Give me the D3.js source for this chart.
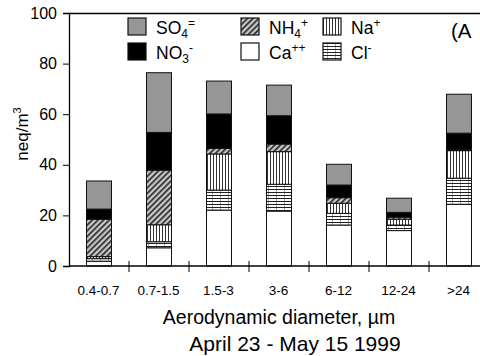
<!DOCTYPE html>
<html>
<head>
<meta charset="utf-8">
<script src="https://cdn.jsdelivr.net/npm/d3@7"></script>
<style>
  body { margin: 0; background: #fff; }
  svg { display: block; font-family: "Liberation Sans", Arial, sans-serif; }
</style>
</head>
<body>
<svg id="chart"></svg>
<script>
var width = 480;
var height = 356;

// size classes (um)
var categories = ["0.4-0.7", "0.7-1.5", "1.5-3", "3-6", "6-12", "12-24", ">24"];
// neq/m3, bottom to top
var ca  = [1.9, 7.2, 22.1, 21.7, 16.2, 14.0, 24.4];
var cl  = [1.0, 2.4, 7.9, 10.6, 4.6, 2.2, 10.3];
var na  = [0.8, 6.7, 14.3, 12.9, 4.0, 2.3, 10.9];
var nh4 = [14.8, 21.6, 2.2, 3.0, 2.2, 0.8, 0.3];
var no3 = [4.0, 14.9, 13.6, 11.2, 5.0, 1.9, 6.6];
var so4 = [11.1, 23.6, 13.0, 12.1, 8.2, 5.6, 15.4];
var yTicks = [0, 20, 40, 60, 80, 100];

var keys = ["ca", "cl", "na", "nh4", "no3", "so4"];
var fills = {
    ca: "#fff",
    cl: "url(#pCl)",
    na: "url(#pNa)",
    nh4: "url(#pNh4)",
    no3: "#000",
    so4: "#969696"
};

var rows = categories.map(function(c, i) {
    return { cat: c, ca: ca[i], cl: cl[i], na: na[i], nh4: nh4[i], no3: no3[i], so4: so4[i] };
});

const svg = d3.select("#chart")
    .attr("width", width)
    .attr("height", height);

// patterns
var defs = svg.append("defs");
var pNh4 = defs.append("pattern").attr("id", "pNh4")
    .attr("patternUnits", "userSpaceOnUse").attr("width", 4).attr("height", 4)
    .attr("patternTransform", "rotate(45)");
pNh4.append("rect").attr("width", 4).attr("height", 4).attr("fill", "#c8c8c8");
pNh4.append("rect").attr("width", 1.6).attr("height", 4).attr("fill", "#222");

var pNa = defs.append("pattern").attr("id", "pNa")
    .attr("patternUnits", "userSpaceOnUse").attr("width", 3).attr("height", 3);
pNa.append("rect").attr("width", 3).attr("height", 3).attr("fill", "#fff");
pNa.append("rect").attr("width", 1).attr("height", 3).attr("fill", "#333");

var pCl = defs.append("pattern").attr("id", "pCl")
    .attr("patternUnits", "userSpaceOnUse").attr("width", 8).attr("height", 3);
pCl.append("rect").attr("width", 8).attr("height", 3).attr("fill", "#fff");
pCl.append("rect").attr("x", 4).attr("width", 1).attr("height", 3).attr("fill", "#aaa");
pCl.append("rect").attr("width", 8).attr("height", 1).attr("fill", "#222");

var x = d3.scaleBand()
    .domain(categories)
    .range([69, 489])
    .padding(0);
var y = d3.scaleLinear()
    .domain([0, 100])
    .range([266, 13]);
var barW = 25;

var series = d3.stack().keys(keys)(rows);

svg.append("g")
    .selectAll("g")
    .data(series)
    .enter().append("g")
    .attr("fill", d => fills[d.key])
    .selectAll("rect")
    .data(d => d)
    .enter().append("rect")
    .attr("x", d => x(d.data.cat) + (x.bandwidth() - barW) / 2)
    .attr("y", d => y(d[1]))
    .attr("width", barW)
    .attr("height", d => y(d[0]) - y(d[1]))
    .attr("stroke", "#111")
    .attr("stroke-width", 1);

// frame / axes
svg.append("line").attr("x1", 69).attr("x2", 480).attr("y1", 13.5).attr("y2", 13.5)
    .attr("stroke", "#000").attr("stroke-width", 1.3);

var yAxis = svg.append("g")
    .attr("transform", "translate(69,0)")
    .call(d3.axisLeft(y).tickValues(yTicks).tickSize(6).tickPadding(6));
yAxis.select(".domain").attr("stroke-width", 1.3);
yAxis.selectAll("text").attr("font-size", 16).attr("font-family", "Liberation Sans, Arial, sans-serif").attr("fill", "#000");

var xAxis = svg.append("g")
    .attr("transform", "translate(0,266)");
xAxis.append("line").attr("x1", 69).attr("x2", 480).attr("stroke", "#000").attr("stroke-width", 1.3);
xAxis.selectAll("line.tk")
    .data(categories.slice(1))
    .enter().append("line")
    .attr("class", "tk")
    .attr("x1", d => x(d)).attr("x2", d => x(d))
    .attr("y1", -5).attr("y2", 6)
    .attr("stroke", "#000");
xAxis.selectAll("text")
    .data(categories)
    .enter().append("text")
    .attr("x", d => x(d) + x.bandwidth() / 2 - 0.5)
    .attr("y", 29)
    .attr("text-anchor", "middle")
    .attr("font-size", 13.5)
    .text(d => d);

// titles
svg.append("text")
    .attr("x", 279).attr("y", 324)
    .attr("text-anchor", "middle")
    .attr("font-size", 19.5)
    .text("Aerodynamic diameter, \u00b5m");
svg.append("text")
    .attr("x", 295).attr("y", 351)
    .attr("text-anchor", "middle")
    .attr("font-size", 21)
    .text("April 23 - May 15 1999");

var yl = svg.append("text")
    .attr("transform", "translate(28,134) rotate(-90)")
    .attr("text-anchor", "middle")
    .attr("font-size", 17);
yl.append("tspan").text("neq/m");
yl.append("tspan").attr("font-size", 11).attr("dy", -7).text("3");

svg.append("text")
    .attr("x", 451).attr("y", 38)
    .attr("font-size", 20.5)
    .text("(A");

// legend
var legendItems = [
    { key: "so4", name: "SO", sub: "4", sup: "=", x: 128, y: 18 },
    { key: "no3", name: "NO", sub: "3", sup: "-", x: 128, y: 43 },
    { key: "nh4", name: "NH", sub: "4", sup: "+", x: 241, y: 18 },
    { key: "ca", name: "Ca", sub: "", sup: "++", x: 241, y: 43 },
    { key: "na", name: "Na", sub: "", sup: "+", x: 323, y: 18 },
    { key: "cl", name: "Cl", sub: "", sup: "-", x: 323, y: 43 }
];
var lg = svg.append("g").selectAll("g")
    .data(legendItems)
    .enter().append("g")
    .attr("transform", d => `translate(${d.x},${d.y})`);
lg.append("rect")
    .attr("width", 18).attr("height", 17)
    .attr("fill", d => fills[d.key])
    .attr("stroke", "#111").attr("stroke-width", 1.2);
var lt = lg.append("text")
    .attr("x", 28).attr("y", 16)
    .attr("font-size", 17.5);
lt.append("tspan").text(d => d.name);
lt.append("tspan").attr("font-size", 12).attr("dy", 4).text(d => d.sub);
lt.append("tspan").attr("font-size", 12).attr("dy", d => d.sub ? -11 : -7).text(d => d.sup);
</script>
</body>
</html>
